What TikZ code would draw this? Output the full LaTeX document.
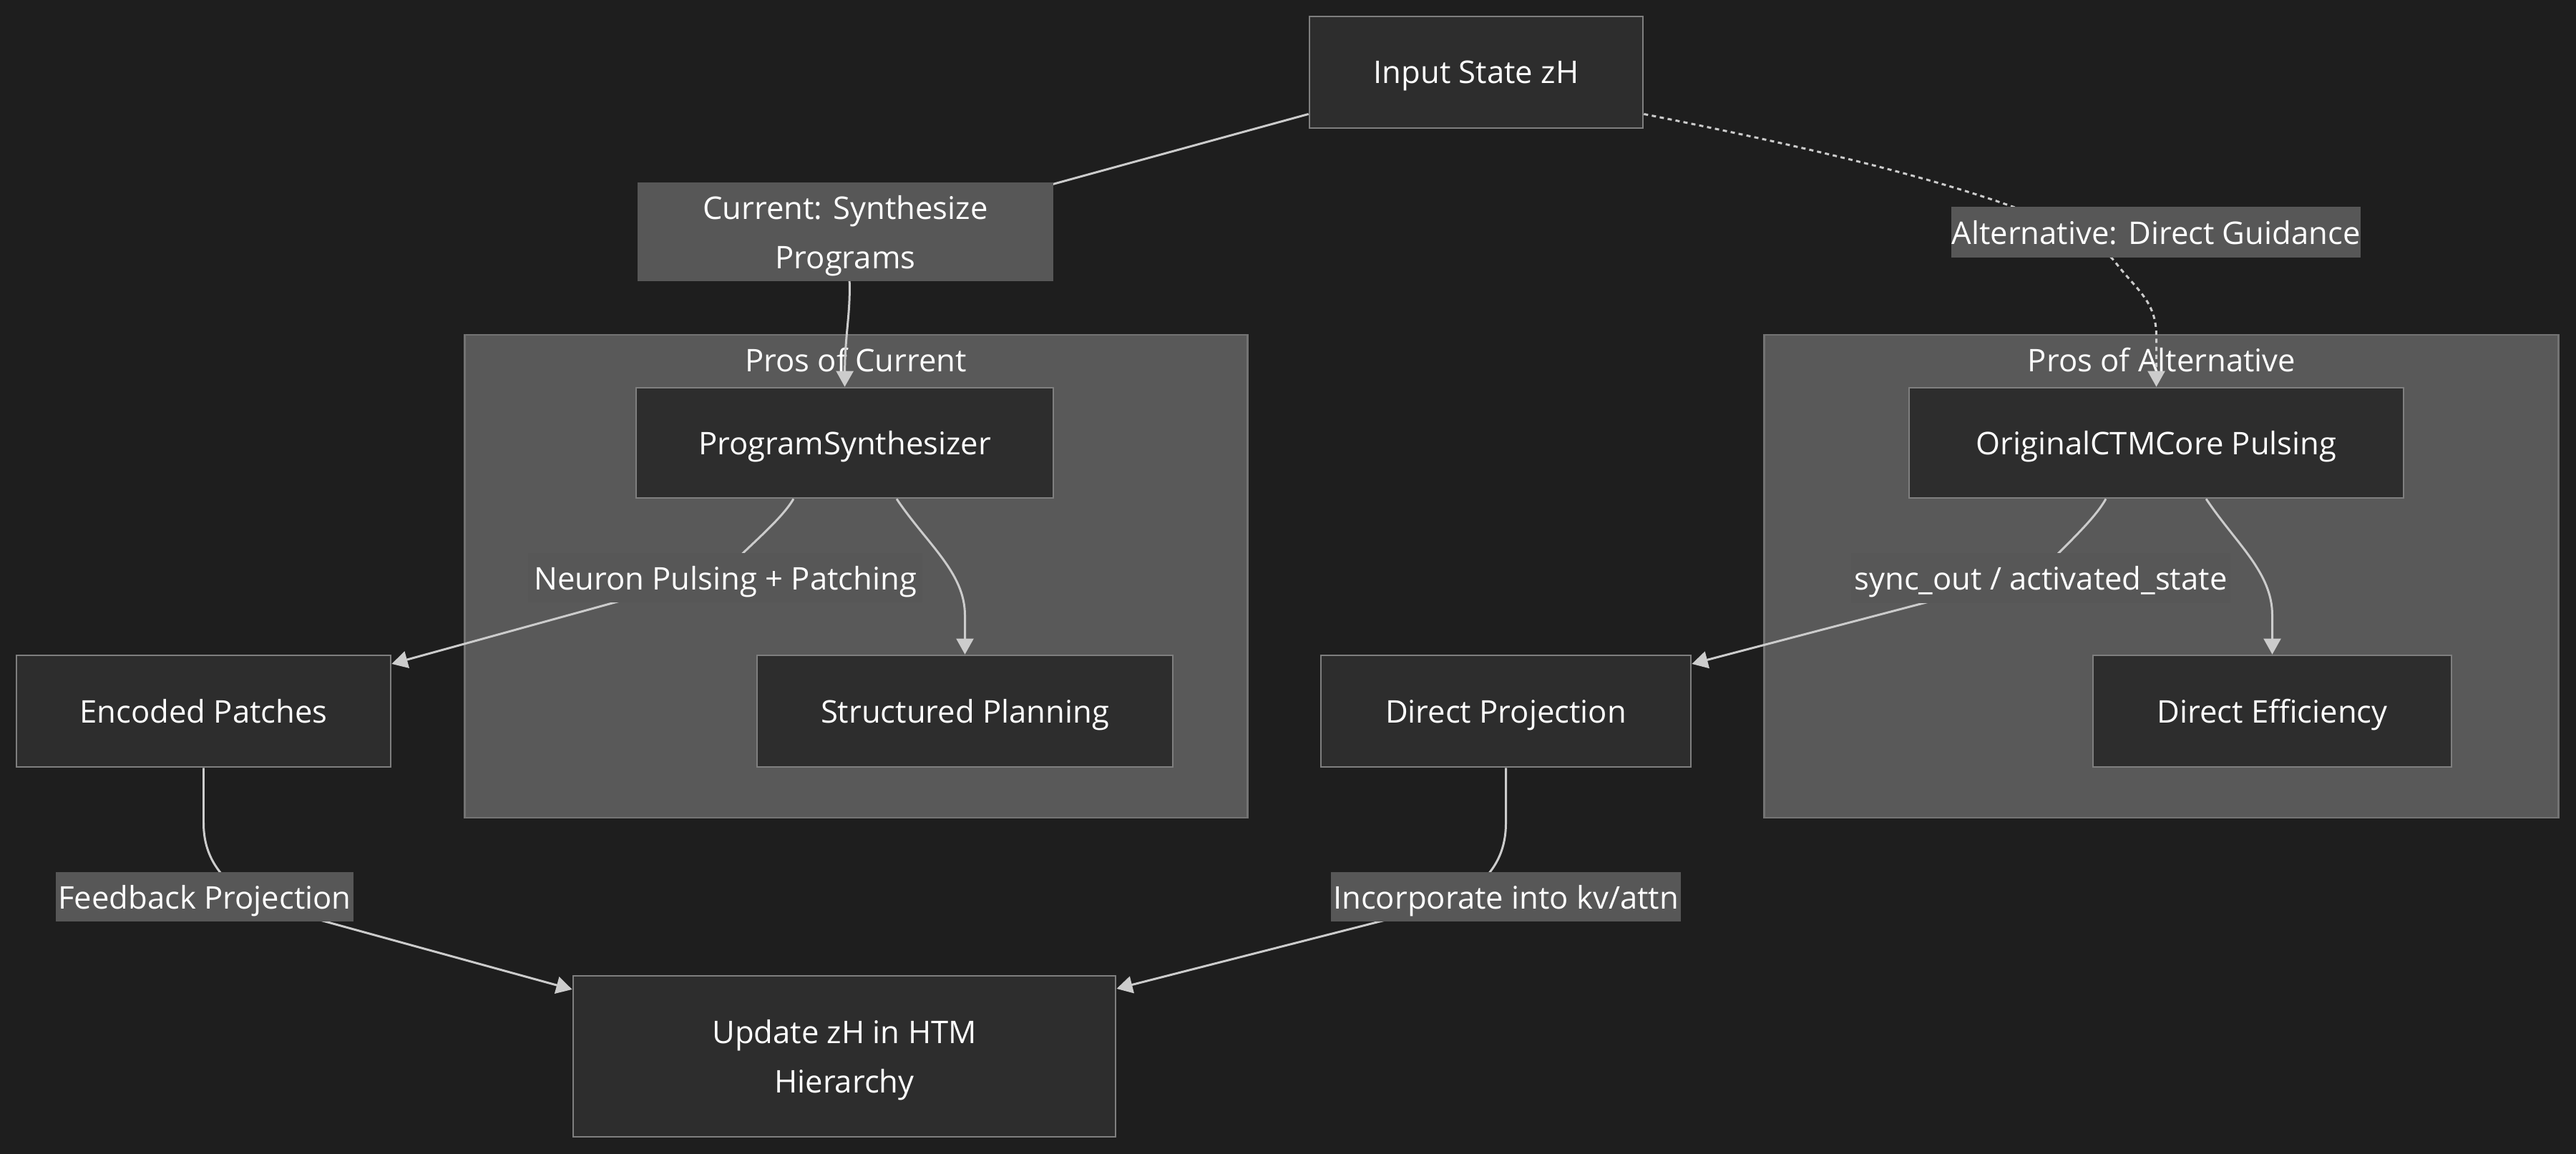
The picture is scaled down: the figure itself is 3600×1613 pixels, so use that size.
\documentclass[tikz,border=0pt]{standalone}
\usepackage{fontspec}
\setmainfont{Open Sans}
\usetikzlibrary{arrows.meta}
\definecolor{bgc}{HTML}{1E1E1E}
\definecolor{nodefill}{HTML}{2D2D2D}
\definecolor{nodeline}{HTML}{7F7F7F}
\definecolor{clfill}{HTML}{595959}
\definecolor{clline}{HTML}{737373}
\definecolor{lblfill}{HTML}{575757}
\definecolor{edgec}{HTML}{CCCCCC}
\pgfdeclarelayer{back}
\pgfdeclarelayer{bg}
\pgfdeclarelayer{edges}
\pgfsetlayers{back,bg,edges,main}
\tikzset{
  txt/.style={font=\fontsize{12.4}{19.6}\selectfont, text=white, text depth=0pt},
  box/.style={txt, draw=nodeline, fill=nodefill, line width=0.7pt, inner sep=0pt, align=center},
  cluster/.style={draw=clline, fill=clfill, line width=0.7pt, inner sep=0pt},
  cltitle/.style={txt, inner sep=0pt},
  elabel/.style={txt, fill=lblfill, inner sep=0pt, align=center},
  edge/.style={draw=edgec, line width=0.85pt, -{Triangle[length=6.3pt,width=6.8pt]}},
  dotedge/.style={edge, dash pattern=on 1.7pt off 1.5pt}
}
\begin{document}
\begin{tikzpicture}[x=0.01cm,y=-0.01cm]
\useasboundingbox (0,0) rectangle (3600,1613);
\begin{pgfonlayer}{back}
\fill[bgc] (0,0) rectangle (3600,1613);
\end{pgfonlayer}

% clusters
\begin{pgfonlayer}{bg}
\node[cluster, minimum width=10.93cm, minimum height=6.75cm] (ccur) at (1196.5,805.5) {};
\node[cluster, minimum width=11.09cm, minimum height=6.75cm] (calt) at (3020.5,805.5) {};
\node[cltitle] (tcur) at (1196,503) {Pros of Current};
\node[cltitle] (talt) at (3021,503) {Pros of Alternative};
\end{pgfonlayer}

% nodes
\node[box, minimum width=4.66cm, minimum height=1.56cm] (input) at (2063,101) {Input State zH};
\node[box, minimum width=5.83cm, minimum height=1.54cm] (ps) at (1180.5,619) {ProgramSynthesizer};
\node[box, minimum width=5.81cm, minimum height=1.56cm] (sp) at (1348.5,994) {Structured Planning};
\node[box, minimum width=5.23cm, minimum height=1.56cm] (ep) at (284.5,994) {Encoded Patches};
\node[box, minimum width=5.17cm, minimum height=1.56cm] (dp) at (2104.5,994) {Direct Projection};
\node[box, minimum width=6.91cm, minimum height=1.54cm] (occ) at (3013.5,619) {OriginalCTMCore Pulsing};
\node[box, minimum width=5.01cm, minimum height=1.56cm] (de) at (3175.5,994) {Direct Efficiency};
\node[box, minimum width=7.58cm, minimum height=2.25cm] (upd) at (1180,1476.5) {Update zH in HTM\\Hierarchy};

% edge labels
\node[elabel, minimum width=5.81cm, minimum height=1.38cm] (lcur) at (1181.5,324) {Current: Synthesize\\Programs};
\node[elabel, minimum width=5.72cm, minimum height=0.71cm] (lalt) at (3013,324.5) {Alternative: Direct Guidance};
\node[elabel, minimum width=5.51cm, minimum height=0.69cm] (lneu) at (1013.5,807.5) {Neuron Pulsing + Patching};
\node[elabel, minimum width=5.30cm, minimum height=0.69cm] (lsync) at (2852,808) {sync\_out / activated\_state};
\node[elabel, minimum width=4.16cm, minimum height=0.69cm] (lfb) at (286,1253.5) {Feedback Projection};
\node[elabel, minimum width=4.89cm, minimum height=0.69cm] (linc) at (2104.5,1253.5) {Incorporate into kv/attn};

% edges
\begin{pgfonlayer}{edges}
\draw[edge] (input.194) -- ([yshift=-0.13cm]lcur.center) .. controls (1195,420) and (1181,450) .. (ps.north);
\draw[dotedge] (input.346.7) .. controls (2650,230) and (2900,300) .. (2955,365)
   .. controls (2985,405) and (3013.5,420) .. (3013.5,470) -- (occ.north);
\draw[edge] ([xshift=-0.715cm]ps.south) .. controls (1090,730) and (1035,772) .. ([yshift=0.08cm]lneu.center) -- ([yshift=0.66cm]ep.east);
\draw[edge] ([xshift=0.725cm]ps.south) .. controls (1295,760) and (1348.5,800) .. (1348.5,860) -- (sp.north);
\draw[edge] ([xshift=-0.705cm]occ.south) .. controls (2925,730) and (2875,772) .. ([yshift=0.08cm]lsync.center) -- ([yshift=0.66cm]dp.east);
\draw[edge] ([xshift=0.695cm]occ.south) .. controls (3125,760) and (3175.5,800) .. (3175.5,860) -- (de.north);
\draw[edge] (ep.south) -- (284.5,1150) .. controls (284.5,1195) and (305,1230) .. (360,1262) -- ([yshift=0.935cm]upd.west);
\draw[edge] (dp.south) -- (2104.5,1150) .. controls (2104.5,1195) and (2085,1230) .. (2030,1262) -- ([yshift=0.945cm]upd.east);
\end{pgfonlayer}
\end{tikzpicture}
\end{document}
